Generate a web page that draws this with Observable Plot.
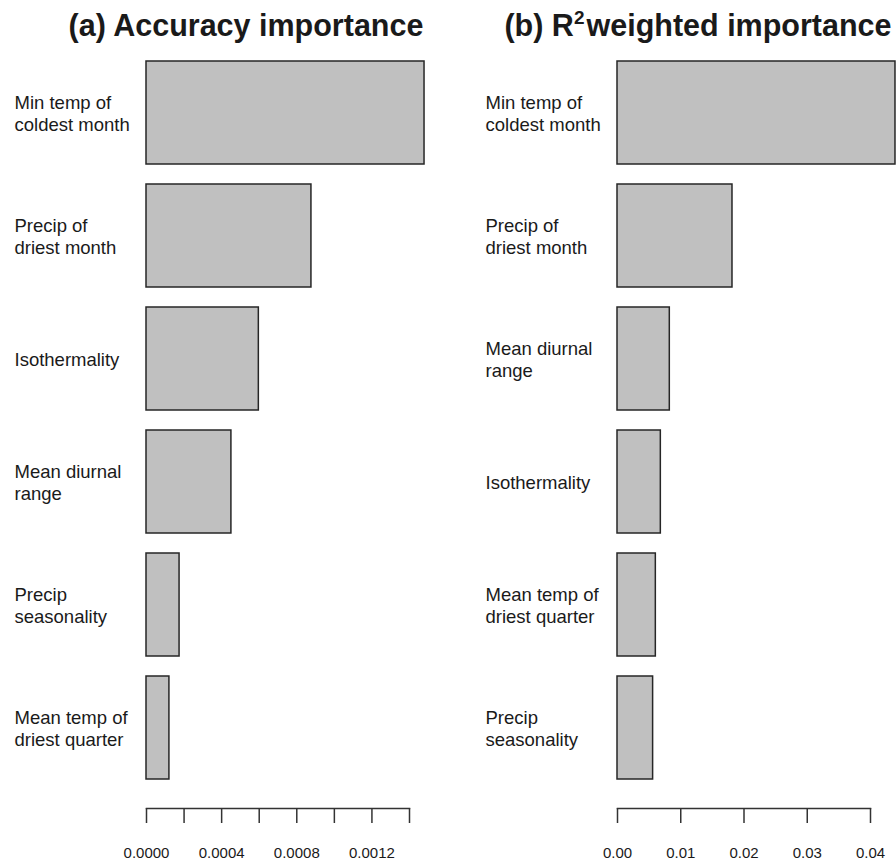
<!DOCTYPE html>
<html>
<head>
<meta charset="utf-8">
<script src="https://cdn.jsdelivr.net/npm/d3@7"></script>
<script src="https://cdn.jsdelivr.net/npm/@observablehq/plot@0.6"></script>
<style>
  body { margin: 0; background: #fff; }
  #wrap { position: relative; width: 896px; height: 863px; overflow: hidden; background: #fff;
          font-family: "Liberation Sans", Arial, sans-serif; color: #1a1a1a; }
  .title { position: absolute; top: 10px; width: 400px; text-align: center; font-weight: bold;
           font-size: 30.5px; line-height: 30px; white-space: nowrap; }
  .title .sup { font-size: 19px; position: relative; top: -12px; margin-right: 2px; }
  .panel { position: absolute; top: 0; }
</style>
</head>
<body>
<div id="wrap">
  <div class="title" style="left:46px">(a) Accuracy importance</div>
  <div class="title" style="left:498px">(b) R<span class="sup">2</span>weighted importance</div>
  <div class="panel" id="pa" style="left:0px"></div>
  <div class="panel" id="pb" style="left:471px"></div>
</div>
<script>
// Panel (a): accuracy importance
const labelsA = [
  "Min temp of\ncoldest month",
  "Precip of\ndriest month",
  "Isothermality",
  "Mean diurnal\nrange",
  "Precip\nseasonality",
  "Mean temp of\ndriest quarter"
];
const valuesA = [0.00148, 0.000878, 0.000598, 0.000452, 0.000176, 0.000122];
const ticksA = [0, 0.0002, 0.0004, 0.0006, 0.0008, 0.0010, 0.0012, 0.0014];
const tickLabelsA = [0, 0.0004, 0.0008, 0.0012];

// Panel (b): R2 weighted importance
const labelsB = [
  "Min temp of\ncoldest month",
  "Precip of\ndriest month",
  "Mean diurnal\nrange",
  "Isothermality",
  "Mean temp of\ndriest quarter",
  "Precip\nseasonality"
];
const valuesB = [0.04395, 0.01818, 0.00827, 0.00685, 0.00606, 0.00563];
const ticksB = [0, 0.01, 0.02, 0.03, 0.04];
const tickLabelsB = [0, 0.01, 0.02, 0.03, 0.04];

function panel(labels, values, ticks, tickLabels, xmax, width, marginRight, fmt) {
  const data = labels.map((l, i) => ({label: l, value: values[i]}));
  return Plot.plot({
    width, height: 863,
    marginLeft: 146, marginRight, marginTop: 60, marginBottom: 55,
    insetBottom: 29,
    style: {fontFamily: "Liberation Sans, Arial, sans-serif", fontSize: "15px", background: "transparent", color: "#1a1a1a", overflow: "visible"},
    x: {domain: [0, xmax], axis: null, label: null},
    y: {domain: labels, paddingInner: 0.165, paddingOuter: 0, axis: null},
    marks: [
      Plot.barX(data, {x: "value", y: "label", fill: "#c0c0c0", stroke: "#262626", strokeWidth: 1.5}),
      Plot.text(labels, {y: d => d, text: d => d, frameAnchor: "left", dx: -132, textAnchor: "start",
                          lineAnchor: "middle", fontSize: 18.5, lineHeight: 1.2, fill: "#1a1a1a"}),
      Plot.frame({anchor: "bottom", stroke: "#333", strokeWidth: 1.5}),
      Plot.axisX(ticks, {tickSize: 15, tickFormat: () => "", label: null, stroke: "#333", strokeWidth: 1.5}),
      Plot.axisX(tickLabels, {tickSize: 0, tickPadding: 39, tickFormat: fmt, label: null, fontSize: 15, fill: "#1a1a1a"})
    ]
  });
}

document.getElementById("pa").append(
  panel(labelsA, valuesA, ticksA, tickLabelsA, 0.0014, 448, 39, d3.format(".4f"))
);
document.getElementById("pb").append(
  panel(labelsB, valuesB, ticksB, tickLabelsB, 0.04, 425, 26, d3.format(".2f"))
);
</script>
</body>
</html>
